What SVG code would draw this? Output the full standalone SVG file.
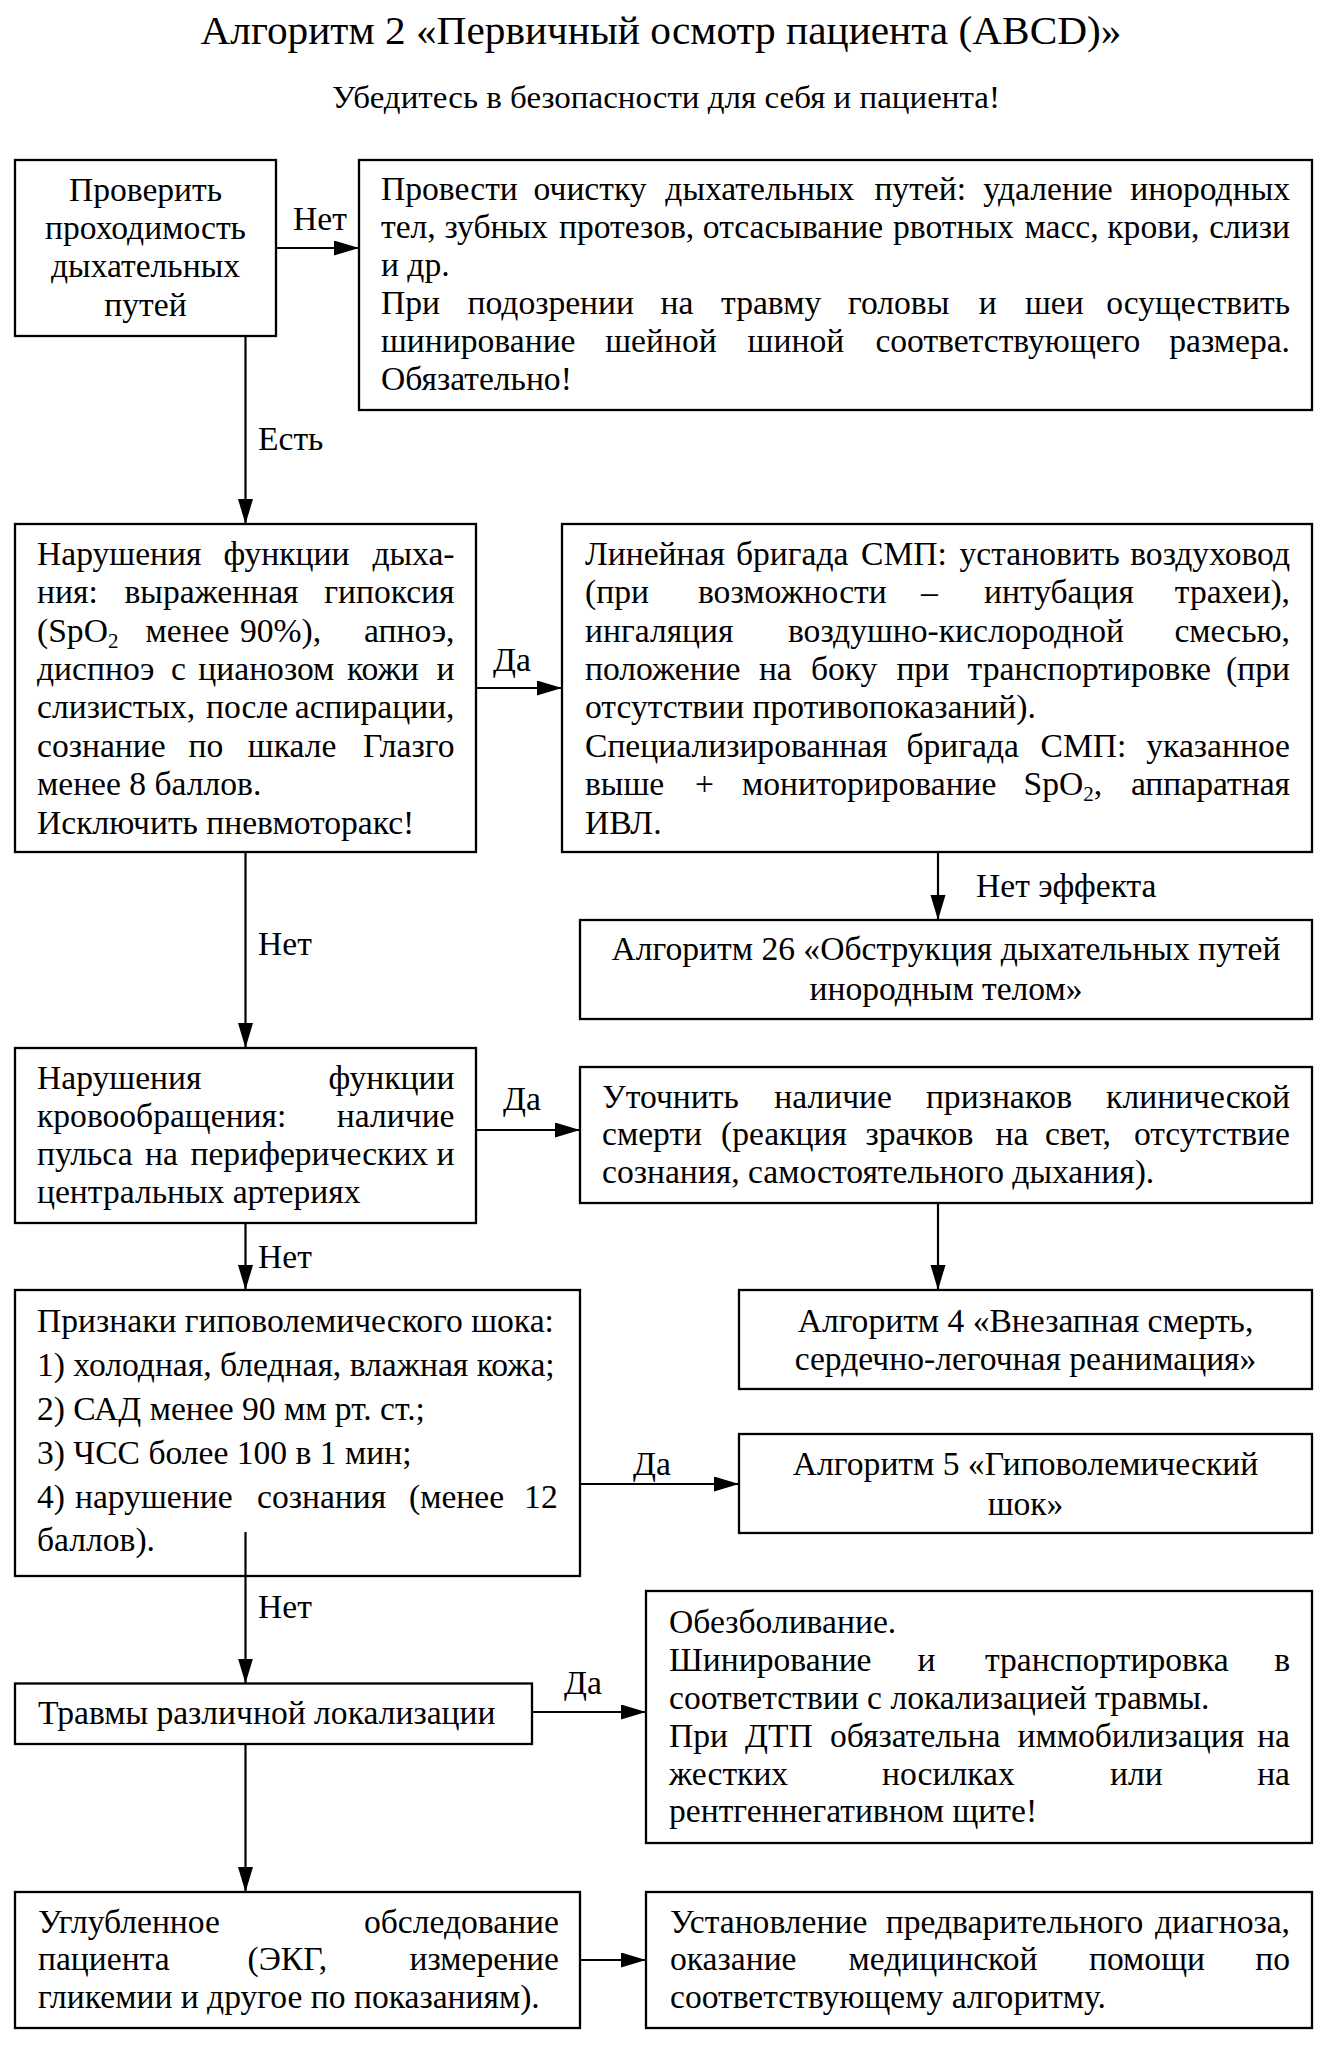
<svg xmlns="http://www.w3.org/2000/svg" width="1321" height="2046" viewBox="0 0 1321 2046">
<defs>
<style>
text{font-family:"Liberation Serif","Times New Roman",serif;font-size:33.6px;fill:#000}
.title{font-size:39px}
.sub{font-size:31.5px}
.c{text-anchor:middle}
.r{text-anchor:end}
.box{fill:#fff;stroke:#000;stroke-width:2.3}
.con{stroke:#000;stroke-width:2.2;fill:none}
.s{font-size:21px}
</style>
<marker id="ah" markerUnits="userSpaceOnUse" markerWidth="26" markerHeight="16" refX="25" refY="7.5" orient="auto">
<path d="M0,0 L25,7.5 L0,15 Z" fill="#000"/>
</marker>
</defs>
<rect width="1321" height="2046" fill="#fff"/>

<text class="title c" x="661" y="44" textLength="921" lengthAdjust="spacingAndGlyphs">Алгоритм 2 «Первичный осмотр пациента (ABCD)»</text>
<text class="sub c" x="666" y="108" textLength="668" lengthAdjust="spacingAndGlyphs">Убедитесь в безопасности для себя и пациента!</text>

<g id="n1">
<rect class="box" x="15" y="160" width="261" height="176"/>
<text class="c" x="145.5" y="201">Проверить</text>
<text class="c" x="145.5" y="239">проходимость</text>
<text class="c" x="145.5" y="277">дыхательных</text>
<text class="c" x="145.5" y="316">путей</text>
</g>

<g id="n2">
<rect class="box" x="359" y="160" width="953" height="250"/>
<text y="200"><tspan x="381">Провести</tspan><tspan x="533.6">очистку</tspan><tspan x="665.3">дыхательных</tspan><tspan x="874.4">путей:</tspan><tspan x="983.3">удаление</tspan></text>
<text class="r" x="1290" y="200">инородных</text>
<text y="238"><tspan x="381">тел,</tspan><tspan x="444.5">зубных</tspan><tspan x="559">протезов,</tspan><tspan x="702.8">отсасывание</tspan><tspan x="893">рвотных</tspan><tspan x="1024.5">масс,</tspan><tspan x="1107.3">крови,</tspan></text>
<text class="r" x="1290" y="238">слизи</text>
<text x="381" y="276">и др.</text>
<text y="314"><tspan x="381">При</tspan><tspan x="467.5">подозрении</tspan><tspan x="660.5">на</tspan><tspan x="721.1">травму</tspan><tspan x="848">головы</tspan><tspan x="978.8">и</tspan><tspan x="1025">шеи</tspan></text>
<text class="r" x="1290" y="314">осуществить</text>
<text y="352"><tspan x="381">шинирование</tspan><tspan x="605.2">шейной</tspan><tspan x="747.6">шиной</tspan><tspan x="875.4">соответствующего</tspan></text>
<text class="r" x="1290" y="352">размера.</text>
<text x="381" y="390">Обязательно!</text>
</g>

<g id="n3">
<rect class="box" x="15" y="524" width="461" height="328"/>
<text y="565"><tspan x="37">Нарушения</tspan><tspan x="223.5">функции</tspan></text>
<text class="r" x="454.5" y="565">дыха-</text>
<text y="603"><tspan x="37">ния:</tspan><tspan x="124.5">выраженная</tspan></text>
<text class="r" x="454.5" y="603">гипоксия</text>
<text y="641.5"><tspan x="37">(SpO</tspan><tspan class="s" dy="6">2</tspan><tspan x="145.5" y="641.5">менее</tspan><tspan x="240">90%),</tspan></text>
<text class="r" x="454.5" y="641.5">апноэ,</text>
<text y="680"><tspan x="37">диспноэ</tspan><tspan x="171">с</tspan><tspan x="198.3">цианозом</tspan><tspan x="347">кожи</tspan></text>
<text class="r" x="454.5" y="680">и</text>
<text y="718"><tspan x="37">слизистых,</tspan><tspan x="206">после</tspan></text>
<text class="r" x="454.5" y="718">аспирации,</text>
<text y="756.5"><tspan x="37">сознание</tspan><tspan x="188.6">по</tspan><tspan x="247.8">шкале</tspan></text>
<text class="r" x="454.5" y="756.5">Глазго</text>
<text x="37" y="795">менее 8 баллов.</text>
<text x="37" y="834">Исключить пневмоторакс!</text>
</g>

<g id="n4">
<rect class="box" x="562" y="524" width="750" height="328"/>
<text y="565"><tspan x="585">Линейная</tspan><tspan x="736">бригада</tspan><tspan x="861">СМП:</tspan><tspan x="959.5">установить</tspan></text>
<text class="r" x="1290" y="565">воздуховод</text>
<text y="603"><tspan x="585">(при</tspan><tspan x="698">возможности</tspan><tspan x="921">–</tspan><tspan x="984">интубация</tspan></text>
<text class="r" x="1290" y="603">трахеи),</text>
<text y="641.5"><tspan x="585">ингаляция</tspan><tspan x="788">воздушно-кислородной</tspan></text>
<text class="r" x="1290" y="641.5">смесью,</text>
<text y="680"><tspan x="585">положение</tspan><tspan x="758.9">на</tspan><tspan x="810.9">боку</tspan><tspan x="896.4">при</tspan><tspan x="967.6">транспортировке</tspan></text>
<text class="r" x="1290" y="680">(при</text>
<text x="585" y="718">отсутствии противопоказаний).</text>
<text y="756.5"><tspan x="585">Специализированная</tspan><tspan x="906.5">бригада</tspan><tspan x="1040.5">СМП:</tspan></text>
<text class="r" x="1290" y="756.5">указанное</text>
<text y="795"><tspan x="585">выше</tspan><tspan x="695">+</tspan><tspan x="742">мониторирование</tspan><tspan x="1023.5">SpO</tspan><tspan class="s" dy="6">2</tspan><tspan dy="-6">,</tspan></text>
<text class="r" x="1290" y="795">аппаратная</text>
<text x="585" y="834">ИВЛ.</text>
</g>

<g id="n5">
<rect class="box" x="580" y="920" width="732" height="99"/>
<text class="c" x="946" y="960">Алгоритм 26 «Обструкция дыхательных путей</text>
<text class="c" x="946" y="1000">инородным телом»</text>
</g>

<g id="n6">
<rect class="box" x="15" y="1048" width="461" height="175"/>
<text x="37" y="1089">Нарушения</text>
<text class="r" x="454.5" y="1089">функции</text>
<text x="37" y="1127">кровообращения:</text>
<text class="r" x="454.5" y="1127">наличие</text>
<text y="1165"><tspan x="37">пульса</tspan><tspan x="145">на</tspan><tspan x="190.5">периферических</tspan></text>
<text class="r" x="454.5" y="1165">и</text>
<text x="37" y="1203">центральных артериях</text>
</g>

<g id="n7">
<rect class="box" x="580" y="1067" width="732" height="136"/>
<text y="1108"><tspan x="602">Уточнить</tspan><tspan x="774.3">наличие</tspan><tspan x="925.9">признаков</tspan></text>
<text class="r" x="1290" y="1108">клинической</text>
<text y="1145"><tspan x="602">смерти</tspan><tspan x="721">(реакция</tspan><tspan x="865.5">зрачков</tspan><tspan x="995.5">на</tspan><tspan x="1045">свет,</tspan></text>
<text class="r" x="1290" y="1145">отсутствие</text>
<text x="602" y="1183">сознания, самостоятельного дыхания).</text>
</g>

<g id="n8">
<rect class="box" x="739" y="1290" width="573" height="99"/>
<text class="c" x="1025.5" y="1332">Алгоритм 4 «Внезапная смерть,</text>
<text class="c" x="1025.5" y="1370">сердечно-легочная реанимация»</text>
</g>

<g id="n9">
<rect class="box" x="15" y="1290" width="565" height="286"/>
<text x="37" y="1332">Признаки гиповолемического шока:</text>
<text x="37" y="1376">1) холодная, бледная, влажная кожа;</text>
<text x="37" y="1420">2) САД менее 90 мм рт. ст.;</text>
<text x="37" y="1464">3) ЧСС более 100 в 1 мин;</text>
<text y="1508"><tspan x="37">4)</tspan><tspan x="75">нарушение</tspan><tspan x="257">сознания</tspan><tspan x="409">(менее</tspan></text>
<text class="r" x="557.7" y="1508">12</text>
<text x="37" y="1551">баллов).</text>
</g>

<g id="n10">
<rect class="box" x="739" y="1434" width="573" height="99"/>
<text class="c" x="1025.5" y="1475">Алгоритм 5 «Гиповолемический</text>
<text class="c" x="1025.5" y="1515">шок»</text>
</g>

<g id="n11">
<rect class="box" x="15" y="1683.5" width="517" height="60.5"/>
<text x="38" y="1723.5">Травмы различной локализации</text>
</g>

<g id="n12">
<rect class="box" x="646" y="1591" width="666" height="252"/>
<text x="669" y="1633">Обезболивание.</text>
<text y="1671"><tspan x="669">Шинирование</tspan><tspan x="917.5">и</tspan><tspan x="985">транспортировка</tspan></text>
<text class="r" x="1290" y="1671">в</text>
<text x="669" y="1709">соответствии с локализацией травмы.</text>
<text y="1747"><tspan x="669">При</tspan><tspan x="745">ДТП</tspan><tspan x="830">обязательна</tspan><tspan x="1017.5">иммобилизация</tspan></text>
<text class="r" x="1290" y="1747">на</text>
<text y="1785"><tspan x="669">жестких</tspan><tspan x="882">носилках</tspan><tspan x="1110">или</tspan></text>
<text class="r" x="1290" y="1785">на</text>
<text x="669" y="1822">рентгеннегативном щите!</text>
</g>

<g id="n13">
<rect class="box" x="15" y="1892" width="565" height="136"/>
<text x="38" y="1933">Углубленное</text>
<text class="r" x="559" y="1933">обследование</text>
<text y="1970"><tspan x="38">пациента</tspan><tspan x="247.5">(ЭКГ,</tspan></text>
<text class="r" x="559" y="1970">измерение</text>
<text x="38" y="2008">гликемии и другое по показаниям).</text>
</g>

<g id="n14">
<rect class="box" x="646" y="1892" width="666" height="136"/>
<text y="1933"><tspan x="670">Установление</tspan><tspan x="885.8">предварительного</tspan></text>
<text class="r" x="1290" y="1933">диагноза,</text>
<text y="1970"><tspan x="670">оказание</tspan><tspan x="848.5">медицинской</tspan><tspan x="1089">помощи</tspan></text>
<text class="r" x="1290" y="1970">по</text>
<text x="670" y="2008">соответствующему алгоритму.</text>
</g>

<g id="connectors">
<line class="con" x1="276" y1="248" x2="359" y2="248" marker-end="url(#ah)"/>
<text x="293" y="230">Нет</text>
<line class="con" x1="245.5" y1="336" x2="245.5" y2="524" marker-end="url(#ah)"/>
<text x="258" y="450">Есть</text>
<line class="con" x1="476" y1="688" x2="562" y2="688" marker-end="url(#ah)"/>
<text x="493" y="671">Да</text>
<line class="con" x1="938" y1="852" x2="938" y2="920" marker-end="url(#ah)"/>
<text x="976" y="897">Нет эффекта</text>
<line class="con" x1="245.5" y1="852" x2="245.5" y2="1048" marker-end="url(#ah)"/>
<text x="258" y="955">Нет</text>
<line class="con" x1="476" y1="1130" x2="580" y2="1130" marker-end="url(#ah)"/>
<text x="503" y="1110">Да</text>
<line class="con" x1="938" y1="1203" x2="938" y2="1290" marker-end="url(#ah)"/>
<line class="con" x1="245.5" y1="1223" x2="245.5" y2="1290" marker-end="url(#ah)"/>
<text x="258" y="1268">Нет</text>
<line class="con" x1="580" y1="1484" x2="739" y2="1484" marker-end="url(#ah)"/>
<text x="633" y="1475">Да</text>
<line class="con" x1="245.5" y1="1532" x2="245.5" y2="1683.5" marker-end="url(#ah)"/>
<text x="258" y="1618">Нет</text>
<line class="con" x1="532" y1="1712" x2="646" y2="1712" marker-end="url(#ah)"/>
<text x="564" y="1694">Да</text>
<line class="con" x1="245.5" y1="1744" x2="245.5" y2="1892" marker-end="url(#ah)"/>
<line class="con" x1="580" y1="1960" x2="646" y2="1960" marker-end="url(#ah)"/>
</g>
</svg>
